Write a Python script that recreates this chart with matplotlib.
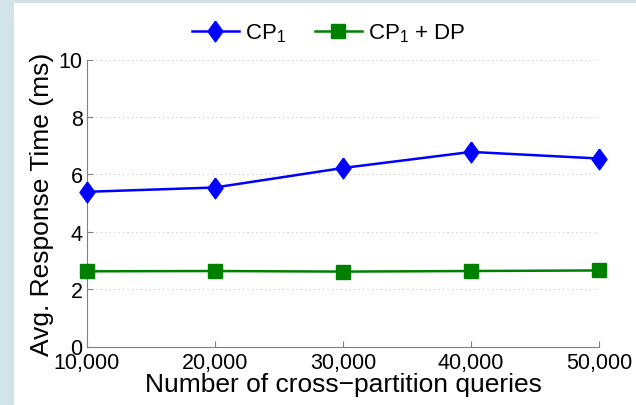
import matplotlib
matplotlib.use("Agg")
import matplotlib.pyplot as plt
from matplotlib.patches import Rectangle
import numpy as np

plt.rcParams['font.family'] = ['Liberation Sans', 'DejaVu Sans']
plt.rcParams['mathtext.fontset'] = 'custom'
plt.rcParams['mathtext.rm'] = 'Liberation Sans'
plt.rcParams['mathtext.it'] = 'Liberation Sans'

queries = [10000, 20000, 30000, 40000, 50000]
xtick_labels = ["10,000", "20,000", "30,000", "40,000", "50,000"]
cp1 = [5.39, 5.54, 6.22, 6.78, 6.55]
cp1_dp = [2.62, 2.63, 2.61, 2.63, 2.65]
series_labels = ["CP$_1$", "CP$_1$ + DP"]
yticks = [0, 2, 4, 6, 8, 10]

W, H = 636, 406
fig = plt.figure(figsize=(W / 100, H / 100), dpi=100)
fig.patch.set_facecolor('#d3e3ea')
fig.patches.append(Rectangle((14 / W, 0), 1, (H - 4) / H, transform=fig.transFigure,
                             facecolor='white', edgecolor='none', zorder=-1))

ax = fig.add_axes([86.7 / W, (H - 347.5) / H, (599.3 - 86.7) / W, 287 / H])
ax.set_facecolor('none')

diamond = [(0, 0.5), (0.36, 0), (0, -0.5), (-0.36, 0), (0, 0.5)]
ax.plot(queries, cp1, color='#0000ff', lw=1.8, marker=diamond, markersize=15,
        markerfacecolor='#0000ff', markeredgecolor='#0000ff', label=series_labels[0],
        clip_on=False, zorder=3)
ax.plot(queries, cp1_dp, color='#008000', lw=1.8, marker='s', markersize=10,
        markerfacecolor='#008000', markeredgecolor='#008000', label=series_labels[1],
        clip_on=False, zorder=3)

ax.set_xlim(10000, 50000)
ax.set_ylim(0, 10)
ax.set_xticks(queries)
ax.set_xticklabels(xtick_labels)
ax.set_yticks(yticks)
ax.tick_params(direction='in', length=4, width=0.8, color='#808080',
               labelsize=15.5, labelcolor='black', pad=3)
ax.tick_params(axis='x', pad=4)

for s in ['top', 'right']:
    ax.spines[s].set_visible(False)
for s in ['left', 'bottom']:
    ax.spines[s].set_color('#808080')
    ax.spines[s].set_linewidth(0.8)

ax.yaxis.grid(True, linestyle=(0, (1, 3)), color='#c8c8c8', linewidth=0.8)
ax.set_axisbelow(True)

ax.set_xlabel("Number of cross\u2212partition queries", fontsize=19, labelpad=-1)
ax.set_ylabel("Avg. Response Time (ms)", fontsize=19, labelpad=3)

fig.legend(loc='center', bbox_to_anchor=(329 / W, 1 - 34 / H), ncol=2, frameon=False,
           fontsize=16, handlelength=2.1, columnspacing=1.3, handletextpad=0.3)

fig.savefig("out.png", dpi=100, facecolor=fig.get_facecolor())
